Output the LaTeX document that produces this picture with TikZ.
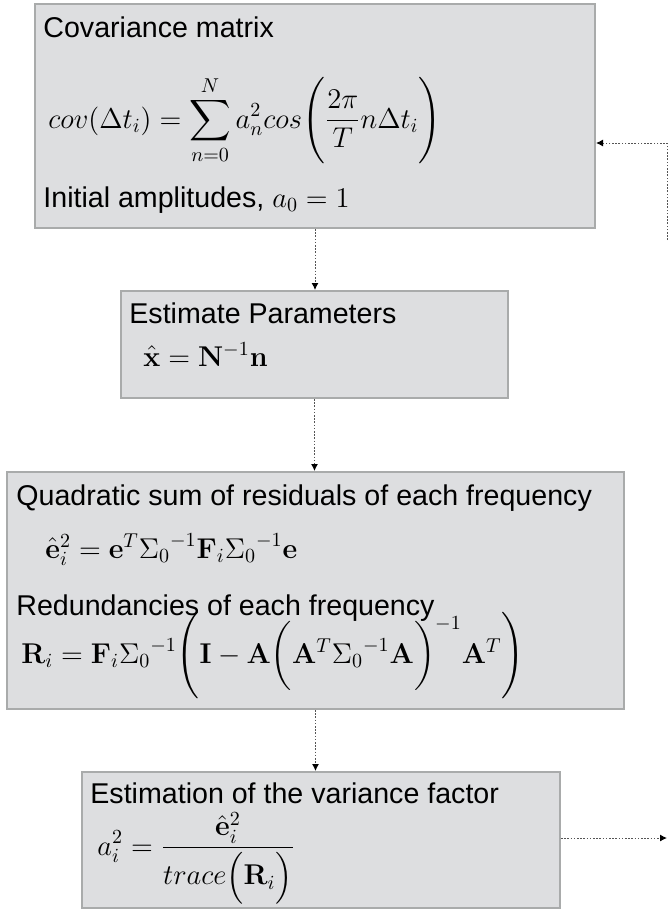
\RequirePackage{fix-cm}
\documentclass[tikz,border=0pt]{standalone}
\usepackage{amsmath}
\usepackage[no-math]{fontspec}
\setmainfont{Liberation Sans}
\usetikzlibrary{arrows.meta}
\definecolor{boxfill}{HTML}{DDDEE0}
\definecolor{boxline}{HTML}{A9ABAB}
\definecolor{flowline}{HTML}{555555}
\begin{document}
\begin{tikzpicture}[x=0.5pt,y=-0.5pt,
  procbox/.style={draw=boxline,fill=boxfill,line width=1pt,inner sep=0pt},
  boxtext/.style={anchor=base west,inner sep=0pt,font=\fontsize{14.3}{17}\selectfont},
  flow/.style={draw=flowline,line width=0.5pt,dash pattern=on 0.8pt off 0.8pt,
    -{Latex[length=3.5pt,width=3.5pt,fill=black,color=black]}}]
\useasboundingbox (0,0) rectangle (668,911);
% boxes
\node[procbox,minimum width=280pt,minimum height=112pt] (covbox) at (315,116) {};
\node[procbox,minimum width=193.5pt,minimum height=53.5pt] (estbox) at (314.5,344.5) {};
\node[procbox,minimum width=308.5pt,minimum height=118.5pt] (resbox) at (315.5,590.5) {};
\node[procbox,minimum width=239pt,minimum height=68pt] (varbox) at (321,840) {};
% texts
\node[boxtext] (covtitle) at (43,37) {Covariance matrix};
\node[boxtext] (covform) at (48,128) {$\displaystyle cov(\Delta t_i)=\sum_{n=0}^{N} a_n^2 cos\Biggl(\frac{2\pi}{T}n\Delta t_i\Biggr)$};
\node[boxtext] (covinit) at (43,207) {Initial amplitudes, $a_0=1$};
\node[boxtext] (esttitle) at (129,323) {Estimate Parameters};
\node[boxtext] (estform) at (143,366) {$\hat{\mathbf{x}}=\mathbf{N}^{-1}\mathbf{n}$};
\node[boxtext] (restitle) at (16,505) {Quadratic sum of residuals of each frequency};
\node[boxtext] (resform) at (45,558) {$\hat{\mathbf{e}}_i^2=\mathbf{e}^T{\Sigma_0}^{-1}\mathbf{F}_i{\Sigma_0}^{-1}\mathbf{e}$};
\node[boxtext] (redtitle) at (16,615) {Redundancies of each frequency};
\node[boxtext] (redform) at (21,663) {$\mathbf{R}_i=\mathbf{F}_i{\Sigma_0}^{-1}\Biggl(\mathbf{I}-\mathbf{A}\biggl(\mathbf{A}^T{\Sigma_0}^{-1}\mathbf{A}\biggr)^{-1}\mathbf{A}^T\Biggr)$};
\node[boxtext] (vartitle) at (90,803) {Estimation of the variance factor};
\node[boxtext] (varform) at (97,855) {$\displaystyle a_i^2=\frac{\hat{\mathbf{e}}_i^2}{trace\Bigl(\mathbf{R}_i\Bigr)}$};
% connectors
\coordinate (fbright) at (667,838);
\coordinate (fbtop) at (667,143);
\coordinate (fbend) at (667,240);
\draw[flow] (covbox.south) -- (covbox.south |- estbox.north);
\draw[flow] (estbox.south) -- (estbox.south |- resbox.north);
\draw[flow] (resbox.south) -- (resbox.south |- varbox.north);
\draw[flow] (varbox.east |- fbright) -- (fbright);
\draw[flow] (fbend) -- (fbtop) -- (covbox.east |- fbtop);
\end{tikzpicture}
\end{document}
